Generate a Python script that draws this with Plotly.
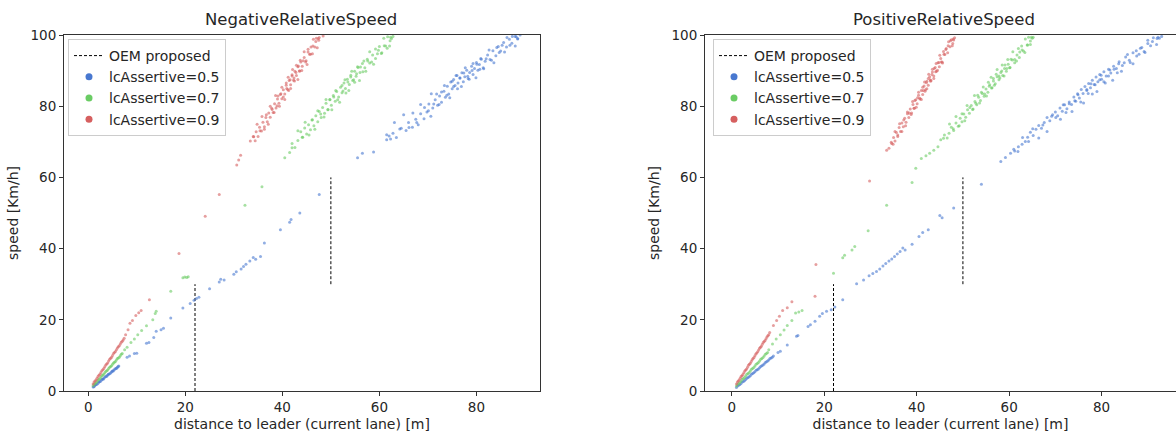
import plotly.graph_objects as go
from plotly.subplots import make_subplots

# ---- data (distance to leader [m], speed [Km/h]) ----
# NegativeRelativeSpeed
neg_05_x = [1, 1.3, 1.6, 2, 2.3, 2.7, 3, 3.3, 3.7, 4, 4.3, 4.7, 5, 5.3, 5.7, 6, 6.3,
            8, 8.5, 9.5, 10, 12, 12.5, 13.5, 14, 15, 15.5, 17, 19.5, 21, 21.8, 22.3, 22.8, 25, 27, 27.3, 28,
            30, 30.5, 31.5, 32, 32.5, 33.3, 34, 34.5, 35.5, 36.3, 39.6, 41.5, 41.8, 43.6, 47.6,
            55.5, 56.5, 58.8, 61.5, 62, 62.8, 63.5, 64.5, 65.5, 66, 66.8, 67.5, 68, 68.5, 69.2, 69.8, 70.2,
            70.6, 71, 71.5, 72, 72.4, 72.8, 73.3, 73.6, 74, 74.3, 74.7, 75, 75.3, 75.6, 76, 76.2, 76.6, 77,
            77.3, 77.6, 78, 78.3, 78.6, 79, 79.3, 79.6, 80, 80.3, 80.6, 81, 81.4, 81.8, 82.3, 82.8, 83.4,
            84, 84.5, 85, 85.6, 86.2, 86.8, 87.3, 88, 88.5, 89,
            61.5, 62.3, 63.1, 64.2, 65.0, 66.1, 66.9, 67.7, 68.5, 69.3, 70.1, 70.7, 71.2, 71.8, 72.3, 72.8,
            73.4, 73.9, 74.5, 75.0, 75.3, 75.8, 76.1, 76.6, 76.9, 77.4, 77.7, 78.2, 78.5, 79.1, 79.3, 79.9,
            80.1, 80.7, 80.9, 81.5, 82.0, 82.6, 83.1, 83.6, 84.2, 84.7, 85.3, 85.8, 86.3, 86.9, 87.4, 88.0,
            88.2, 88.5,
            1.15, 1.45, 1.8, 2.15, 2.5, 2.85, 3.15, 3.5, 3.85, 4.15, 4.5, 4.85, 5.15, 5.5, 5.85, 6.15]
neg_05_y = [1.1, 1.4, 1.8, 2.2, 2.6, 3, 3.4, 3.7, 4.1, 4.5, 4.8, 5.2, 5.6, 5.9, 6.3, 6.7, 7,
            9.5, 9.8, 10.5, 10.6, 13.4, 13.6, 15, 16.8, 17.2, 17.6, 20.5, 23.3, 24.6, 25.5, 26, 26.3, 28.7, 30.6, 31.4, 31.2,
            32.8, 33.5, 34.3, 35, 35.6, 36.5, 37.5, 37, 37.8, 41.6, 45.3, 47.4, 48.2, 50, 55.2,
            65.5, 66.8, 67.1, 70.6, 71.6, 72.4, 71.2, 73.8, 73.2, 75.4, 74.1, 76.3, 74.8, 77.9, 76.5, 78.4, 80.6,
            77.2, 79.5, 81.8, 80.3, 82.9, 81.1, 84.2, 82.5, 85.6, 83.4, 86.8, 84.9, 87.5, 85.8, 88.6, 86.5, 87.9, 89.4,
            86.9, 88.3, 90.1, 87.8, 89.5, 91.2, 88.9, 90.6, 92.3, 90.1, 91.7, 93.2, 90.8, 92.6, 94.4, 93.1, 95.6,
            94.2, 96.8, 95.5, 97.9, 96.6, 98.8, 97.7, 99.6, 98.9, 100,
            72.0, 70.8, 75.4, 73.6, 77.6, 74.0, 78.1, 75.4, 80.5, 79.6, 78.7, 83.5, 80.6, 83.4, 80.5, 84.0,
            85.8, 83.1, 82.4, 87.0, 85.5, 88.6, 84.9, 87.9, 85.5, 89.3, 90.8, 88.4, 87.6, 90.0, 92.0, 88.0,
            91.8, 90.4, 93.4, 90.5, 93.3, 95.8, 92.9, 92.2, 96.5, 95.1, 97.1, 95.2, 99.3, 97.1, 99.6, 96.9,
            99.5, 99.0,
            1.2, 1.7, 1.9, 2.5, 2.7, 3.3, 3.4, 4.0, 4.2, 4.7, 4.9, 5.5, 5.6, 6.2, 6.4, 6.9]

neg_07_x = [1, 1.4, 1.8, 2.2, 2.6, 3, 3.4, 3.8, 4.2, 4.6, 5, 5.4, 5.8, 6.2, 6.6, 7,
            7.5, 8, 8.8, 9.5, 10.2, 11, 12, 13.3, 13.8, 14, 17, 19.5, 19.9, 20.3, 20.6, 32.3, 35.8,
            40.5, 41.5, 42, 43.2, 43.8, 44.2, 44.6, 45, 45.4, 45.8, 46.2, 46.5, 46.9, 47.3, 47.6, 48, 48.3,
            48.7, 49, 49.4, 49.8, 50.1, 50.5, 50.9, 51.2, 51.6, 52, 52.3, 52.7, 53, 53.4, 53.8, 54.1, 54.5,
            54.9, 55.2, 55.6, 56, 56.5, 57, 57.5, 58, 58.6, 59.2, 59.8, 60.4, 61, 61.6, 62.2, 62.8,
            42.0, 42.6, 43.2, 44.1, 44.7, 45.5, 46.1, 46.7, 47.3, 47.9, 48.6, 49.0, 49.4, 49.8, 50.2, 50.6,
            51.0, 51.4, 51.8, 52.3, 52.5, 52.9, 53.1, 53.5, 53.7, 54.1, 54.3, 54.7, 54.9, 55.3, 55.5, 55.9,
            56.1, 56.6, 56.8, 57.2, 57.6, 58.0, 58.4, 58.8, 59.2, 59.6, 60.0, 60.5, 60.9, 61.3, 61.7, 62.1,
            62.3, 62.5,
            1.2, 1.6, 2.0, 2.4, 2.8, 3.2, 3.6, 4.0, 4.4, 4.8, 5.2, 5.6, 6.0, 6.4, 6.8]
neg_07_y = [1.5, 2.1, 2.7, 3.3, 3.9, 4.5, 5.1, 5.7, 6.3, 6.9, 7.5, 8.1, 8.7, 9.3, 9.9, 10.5,
            11.6, 12.3, 13.6, 14.6, 15.8, 17, 18.3, 20, 21.8, 22.4, 28, 31.8, 32, 31.9, 32.1, 52.2, 57.4,
            65.5, 67, 68.3, 70.4, 72.8, 71.3, 73.9, 72.2, 74.8, 73.4, 76.2, 74.5, 77.3, 75.6, 78.5, 76.8, 79.6,
            78, 80.8, 79.1, 81.9, 80.3, 83, 81.4, 84.1, 82.6, 85.3, 83.8, 86.5, 85, 87.6, 86.1, 88.7, 87.2,
            89.8, 88.4, 90.9, 89.5, 92, 90.8, 93.2, 92.1, 94.4, 93.4, 95.7, 94.8, 97, 96.3, 98.4, 99.6,
            69.5, 68.4, 73.1, 71.3, 75.5, 71.9, 76.1, 73.5, 78.7, 77.8, 77.0, 81.9, 79.0, 81.8, 79.0, 82.6,
            84.4, 81.8, 81.1, 85.8, 84.3, 87.4, 83.7, 86.8, 84.4, 88.2, 89.8, 87.4, 86.7, 89.1, 91.1, 87.2,
            91.0, 89.7, 92.7, 89.8, 92.7, 95.3, 92.4, 91.8, 96.1, 94.7, 96.8, 95.0, 99.1, 96.9, 99.5, 96.9,
            99.4, 99.0,
            1.9, 2.3, 3.1, 3.5, 4.3, 4.7, 5.5, 5.9, 6.7, 7.1, 7.9, 8.3, 9.1, 9.5, 10.3]

neg_09_x = [1, 1.4, 1.8, 2.2, 2.6, 3, 3.4, 3.8, 4.2, 4.6, 5, 5.4, 5.8, 6.2, 6.6, 7, 7.4, 7.7,
            8.2, 8.6, 9.1, 9.8, 10.4, 10.9, 12.6, 18.7, 24.1, 27,
            30.6, 31, 31.4, 33.4, 34.1, 34.6, 35, 35.3, 35.7, 36, 36.3, 36.6, 36.9, 37.2, 37.5, 37.8, 38.1,
            38.4, 38.7, 39, 39.3, 39.6, 39.9, 40.2, 40.5, 40.8, 41.1, 41.4, 41.7, 42, 42.3, 42.6, 42.9,
            43.2, 43.5, 43.8, 44.1, 44.5, 44.9, 45.3, 45.8, 46.3, 46.9, 47.6, 48.4,
            34.0, 34.4, 34.8, 35.4, 35.8, 36.3, 36.7, 37.1, 37.5, 37.9, 38.3, 38.6, 38.9, 39.1, 39.4, 39.7,
            39.9, 40.2, 40.5, 40.8, 40.9, 41.2, 41.3, 41.6, 41.7, 42.0, 42.1, 42.4, 42.5, 42.8, 42.9, 43.2,
            43.3, 43.6, 43.7, 44.0, 44.3, 44.5, 44.8, 45.1, 45.3, 45.6, 45.9, 46.2, 46.4, 46.7, 47.0, 47.2,
            47.4, 47.5,
            1.2, 1.6, 2.0, 2.4, 2.8, 3.2, 3.6, 4.0, 4.4, 4.8, 5.2, 5.6, 6.0, 6.4, 6.8, 7.2]
neg_09_y = [2, 2.8, 3.6, 4.4, 5.2, 6, 6.8, 7.6, 8.4, 9.2, 10, 10.8, 11.6, 12.4, 13.2, 14, 14.8, 15.8,
            17.2, 19, 19.8, 21.2, 22, 22.6, 25.6, 38.6, 49.1, 55.2,
            63.5, 64.9, 66.2, 70.2, 71.4, 72.8, 71.5, 74.1, 73, 75.5, 74.2, 76.8, 75.6, 78.1, 76.9, 79.4, 78.2,
            80.7, 79.5, 82, 80.8, 83.3, 82.1, 84.6, 83.4, 85.9, 84.7, 87.2, 86, 88.5, 87.3, 89.8, 88.6,
            91.1, 89.9, 92.4, 91.2, 93.7, 92.8, 95.2, 94.6, 96.9, 98.2, 99.3, 99.7,
            71.5, 70.3, 74.9, 73.1, 77.1, 73.5, 77.6, 74.9, 80.0, 79.1, 78.2, 83.0, 80.1, 82.9, 80.0, 83.5,
            85.3, 82.6, 81.9, 86.5, 85.0, 88.1, 84.4, 87.4, 85.0, 88.8, 90.3, 87.9, 87.1, 89.5, 91.5, 87.5,
            91.3, 89.9, 92.9, 90.0, 92.8, 95.3, 92.4, 91.7, 96.0, 94.6, 96.6, 94.7, 98.8, 96.6, 99.1, 96.4,
            99.0, 98.5,
            2.5, 3.1, 4.1, 4.7, 5.7, 6.3, 7.3, 7.9, 8.9, 9.5, 10.5, 11.1, 12.1, 12.7, 13.7, 14.3]

# PositiveRelativeSpeed
pos_05_x = [1, 1.5, 2, 2.5, 3, 3.5, 4, 4.5, 5, 5.5, 6, 6.5, 7, 7.5, 8, 8.5, 9,
            10, 10.5, 12, 14, 14.3, 16.5, 17, 18, 19, 19.6, 20.5, 21.5, 22.3, 24, 27, 28.5, 29.7, 30.5,
            31.3, 32, 32.7, 33.3, 34, 34.6, 35.2, 35.8, 36.4, 37, 37.5, 39, 40.5, 41.3, 42.5, 45, 45.5, 48, 54,
            58.2, 59.2, 60.3, 61.2, 62, 62.8, 63.5, 64, 64.6, 65.2, 65.8, 66.4, 67, 67.6, 68.2, 68.8, 69.4,
            70, 70.5, 71, 71.5, 72, 72.5, 73, 73.5, 74, 74.4, 74.8, 75.2, 75.6, 76, 76.4, 76.8, 77.2, 77.6,
            78, 78.4, 78.8, 79.2, 79.6, 80, 80.5, 81, 81.5, 82, 82.6, 83.2, 83.8, 84.5, 85.2, 86, 86.8,
            87.6, 88.4, 89.2, 90, 91, 92, 93,
            61.0, 61.9, 62.9, 64.2, 65.1, 66.4, 67.3, 68.2, 69.2, 70.1, 71.1, 71.7, 72.3, 73.0, 73.6, 74.2,
            74.9, 75.5, 76.1, 76.8, 77.1, 77.7, 78.0, 78.6, 79.0, 79.6, 79.9, 80.5, 80.8, 81.5, 81.8, 82.4,
            82.7, 83.4, 83.7, 84.3, 84.9, 85.6, 86.2, 86.8, 87.5, 88.1, 88.7, 89.4, 90.0, 90.6, 91.2, 91.9,
            92.2, 92.5,
            1.25, 1.75, 2.25, 2.75, 3.25, 3.75, 4.25, 4.75, 5.25, 5.75, 6.25, 6.75, 7.25, 7.75, 8.25, 8.75]
pos_05_y = [1, 1.6, 2.1, 2.7, 3.2, 3.8, 4.3, 4.9, 5.4, 6, 6.5, 7.1, 7.6, 8.2, 8.7, 9.3, 9.8,
            10.8, 11.2, 12.9, 15.4, 15.6, 18.1, 18.6, 19.6, 21, 21.8, 22.4, 22.8, 23.6, 25.6, 30.1, 31.2, 32.4, 33,
            33.6, 34.3, 35.1, 35.8, 36.5, 37.1, 37.8, 38.5, 39.2, 40.2, 39.6, 41.2, 43.4, 44.5, 45.3, 49.3, 48.7, 51.4, 58.1,
            64.5, 65.6, 66.8, 67.4, 68.6, 69.3, 70.1, 71.3, 72.7, 71.8, 73.5, 74.6, 73.8, 75.4, 76.8, 75.9, 77.6,
            78.4, 77.3, 79.5, 78.6, 80.4, 79.3, 81.2, 80.5, 82.6, 81.4, 83.5, 82.3, 84.7, 83.6, 85.5, 84.4, 86.4, 85.2,
            87.3, 86.1, 88.2, 86.9, 88.9, 87.6, 89.7, 88.5, 90.4, 89.3, 91.2, 90.6, 92.5, 91.4, 93.8, 92.9, 95,
            94.1, 96.3, 95.4, 97.6, 98.2, 99, 99.6,
            67.9, 67.3, 71.2, 70.1, 73.7, 71.1, 74.7, 72.9, 77.2, 76.8, 76.3, 80.4, 78.2, 80.7, 78.5, 81.5,
            83.2, 81.2, 80.9, 84.7, 83.6, 86.3, 83.4, 86.0, 84.1, 87.4, 88.7, 86.9, 86.5, 88.5, 90.2, 87.3,
            90.4, 89.4, 91.9, 89.8, 92.2, 94.5, 92.3, 91.9, 95.6, 94.6, 96.5, 95.1, 98.5, 97.0, 99.2, 97.3,
            99.4, 99.1,
            1.4, 1.8, 2.5, 2.9, 3.6, 4.0, 4.7, 5.1, 5.8, 6.2, 6.9, 7.3, 8.0, 8.4, 9.1, 9.5]

pos_07_x = [1, 1.5, 2, 2.5, 3, 3.5, 4, 4.5, 5, 5.5, 6, 6.5, 7, 7.5, 8,
            8.8, 9.6, 10.5, 11.3, 12, 13, 13.8, 14.5, 15.2, 22, 24, 24.4, 26, 26.6, 29.5, 33.5, 39,
            39.8, 41, 42, 42.8, 43.7, 44.6, 45.2, 45.8,
            47, 47.5, 48, 48.5, 49, 49.4, 49.8, 50.2, 50.6, 51, 51.4, 51.8, 52.2, 52.6, 53, 53.4, 53.8,
            54.2, 54.6, 55, 55.4, 55.8, 56.2, 56.6, 57, 57.4, 57.8, 58.2, 58.6, 59, 59.4, 59.8, 60.2,
            60.7, 61.2, 61.7, 62.2, 62.8, 63.4, 64, 64.6, 65.2,
            46.0, 46.6, 47.1, 47.9, 48.5, 49.2, 49.8, 50.4, 50.9, 51.5, 52.1, 52.5, 52.8, 53.2, 53.6, 54.0,
            54.4, 54.7, 55.1, 55.5, 55.7, 56.1, 56.3, 56.6, 56.8, 57.2, 57.4, 57.8, 58.0, 58.4, 58.5, 58.9,
            59.1, 59.5, 59.7, 60.1, 60.4, 60.8, 61.2, 61.6, 62.0, 62.3, 62.7, 63.1, 63.5, 63.9, 64.2, 64.6,
            64.8, 65.0,
            1.25, 1.75, 2.25, 2.75, 3.25, 3.75, 4.25, 4.75, 5.25, 5.75, 6.25, 6.75, 7.25, 7.75]
pos_07_y = [1.4, 2.1, 2.8, 3.5, 4.2, 4.9, 5.6, 6.3, 7, 7.7, 8.4, 9.1, 9.8, 10.5, 11.6,
            13.2, 14.6, 15.8, 17.1, 18.4, 19.8, 21.9, 22.2, 22.6, 33.1, 37.4, 38.1, 39.6, 40.6, 45, 52.2, 58.6,
            62.6, 65.3, 66.1, 66.8, 67.6, 68.6, 70.6, 71,
            72.4, 74.1, 73.2, 75.3, 74.4, 76.6, 75.6, 77.8, 76.9, 79, 78, 80.2, 79.2, 81.3, 80.4, 82.5, 81.6,
            83.6, 82.8, 84.8, 83.9, 86, 85.1, 87.1, 86.3, 88.3, 87.4, 89.5, 88.6, 90.6, 89.8, 91.8, 90.9,
            93, 92.2, 94.4, 93.7, 95.8, 95.1, 97.2, 98.3, 99.4,
            71.9, 71.1, 75.0, 73.7, 77.1, 74.5, 77.9, 75.9, 80.2, 79.6, 79.1, 83.0, 80.8, 83.1, 80.9, 83.9,
            85.4, 83.4, 82.9, 86.7, 85.6, 88.1, 85.2, 87.8, 85.9, 89.0, 90.3, 88.5, 87.9, 89.9, 91.6, 88.5,
            91.6, 90.6, 93.1, 90.8, 93.2, 95.3, 93.1, 92.7, 96.2, 95.2, 96.9, 95.5, 98.9, 97.2, 99.4, 97.3,
            99.4, 99.1,
            1.9, 2.4, 3.3, 3.8, 4.7, 5.2, 6.1, 6.6, 7.5, 8.0, 8.9, 9.4, 10.3, 10.8]

pos_09_x = [1, 1.4, 1.8, 2.2, 2.6, 3, 3.4, 3.8, 4.2, 4.6, 5, 5.4, 5.8, 6.2, 6.6, 7, 7.4, 7.8, 8.2,
            9, 9.7, 10.3, 11, 12, 13, 18, 18.2, 29.8, 33.5, 34,
            34.6, 35, 35.3, 35.6, 35.9, 36.2, 36.5, 36.8, 37.1, 37.4, 37.7, 38, 38.3, 38.6, 38.9, 39.2,
            39.5, 39.8, 40.1, 40.4, 40.7, 41, 41.3, 41.6, 41.9, 42.2, 42.5, 42.8, 43.1, 43.4, 43.7, 44,
            44.3, 44.6, 44.9, 45.2, 45.5, 45.9, 46.3, 46.8, 47.3, 47.8, 48.2,
            34.5, 34.9, 35.3, 35.9, 36.3, 36.8, 37.2, 37.6, 38.0, 38.4, 38.8, 39.1, 39.4, 39.6, 39.9, 40.2,
            40.4, 40.7, 41.0, 41.3, 41.4, 41.7, 41.8, 42.1, 42.2, 42.5, 42.6, 42.9, 43.0, 43.3, 43.4, 43.7,
            43.8, 44.1, 44.2, 44.5, 44.8, 45.0, 45.3, 45.6, 45.8, 46.1, 46.4, 46.7, 46.9, 47.2, 47.5, 47.7,
            47.9, 48.0,
            1.2, 1.6, 2.0, 2.4, 2.8, 3.2, 3.6, 4.0, 4.4, 4.8, 5.2, 5.6, 6.0, 6.4, 6.8, 7.2, 7.6, 8.0]
pos_09_y = [2, 2.8, 3.6, 4.3, 5.1, 5.9, 6.7, 7.5, 8.3, 9.1, 9.9, 10.7, 11.5, 12.3, 13.1, 13.9, 14.7, 15.5, 16.4,
            18.4, 19.8, 21, 22.6, 23.4, 25.1, 26.6, 35.5, 59, 67.6, 68.2,
            69.5, 71.2, 70.2, 72.6, 71.5, 74, 72.9, 75.3, 74.2, 76.6, 75.5, 77.9, 76.8, 79.2, 78.1, 80.5,
            79.4, 81.8, 80.7, 83.1, 82, 84.4, 83.3, 85.7, 84.6, 87, 85.9, 88.3, 87.2, 89.6, 88.5, 90.9,
            89.8, 92.2, 91.1, 93.4, 92.4, 94.6, 95.9, 97, 98.4, 97.6, 99.2,
            69.9, 69.3, 72.9, 71.9, 75.1, 72.9, 76.1, 74.5, 78.4, 78.1, 77.7, 81.3, 79.4, 81.6, 79.7, 82.4,
            83.9, 82.2, 81.9, 85.3, 84.4, 86.8, 84.2, 86.6, 84.9, 87.8, 89.0, 87.4, 87.0, 88.9, 90.4, 87.8,
            90.6, 89.7, 92.0, 90.1, 92.3, 94.3, 92.4, 92.1, 95.4, 94.5, 96.2, 95.0, 98.1, 96.7, 98.7, 97.0,
            98.9, 98.6,
            2.5, 3.1, 4.1, 4.6, 5.6, 6.2, 7.2, 7.8, 8.8, 9.4, 10.4, 11.0, 12.0, 12.6, 13.6, 14.2, 15.2, 15.8]

# OEM proposed thresholds (two vertical segments)
oem_x = [22, 22, None, 50, 50]
oem_y = [0, 30, None, 30, 60]

labels = ["lcAssertive=0.5", "lcAssertive=0.7", "lcAssertive=0.9"]
colors = ["#4878d0", "#6acc64", "#d65f5f"]
panels = ["NegativeRelativeSpeed", "PositiveRelativeSpeed"]

series = [
    [(neg_05_x, neg_05_y), (neg_07_x, neg_07_y), (neg_09_x, neg_09_y)],
    [(pos_05_x, pos_05_y), (pos_07_x, pos_07_y), (pos_09_x, pos_09_y)],
]

FONT = "DejaVu Sans"
TXT = "#262626"
W, H = 1176, 432   # body margin is zeroed in post_script so the figure fills the window

fig = make_subplots(rows=1, cols=2)

for p in range(2):
    leg = "legend" if p == 0 else "legend2"
    fig.add_trace(go.Scatter(x=oem_x, y=oem_y, mode="lines", name="OEM proposed",
                             line=dict(color="black", width=1, dash="3px,2px"),
                             legend=leg), row=1, col=p + 1)
    for (xs, ys), lab, col in zip(series[p], labels, colors):
        fig.add_trace(go.Scatter(x=xs, y=ys, mode="markers", name=lab, showlegend=False,
                                 marker=dict(color=col, size=3, opacity=0.6, line_width=0)),
                      row=1, col=p + 1)
        # legend-only entry with a bigger dot
        fig.add_trace(go.Scatter(x=[None], y=[None], mode="markers", name=lab,
                                 marker=dict(color=col, size=7), legend=leg),
                      row=1, col=p + 1)

axis_style = dict(showline=True, linecolor="#333333", linewidth=1, ticks="outside",
                  ticklen=4, tickcolor="#333333", showgrid=False, zeroline=False,
                  automargin=False,
                  tickfont=dict(family=FONT, size=13.5, color=TXT),
                  title_font=dict(family=FONT, size=14, color=TXT))
fig.update_xaxes(axis_style)
fig.update_yaxes(axis_style)

ydom = [41 / H, 397 / H]
xlabel = "distance to leader (current lane) [m]"
ylabel = "speed [Km/h]"

fig.update_layout(
    xaxis=dict(domain=[64 / W, 540 / W], range=[-5, 93.1], mirror=True,
               tickvals=[0, 20, 40, 60, 80], title=dict(text=xlabel, standoff=17)),
    yaxis=dict(domain=ydom, range=[0, 100], mirror=True,
               tickvals=[0, 20, 40, 60, 80, 100], title=dict(text=ylabel, standoff=8)),
    xaxis2=dict(domain=[705 / W, 1], range=[-5.8, 96.1], mirror=True,
                tickvals=[0, 20, 40, 60, 80], title=dict(text=xlabel, standoff=17)),
    yaxis2=dict(domain=ydom, range=[0, 100], mirror=False,
                tickvals=[0, 20, 40, 60, 80, 100], title=dict(text=ylabel, standoff=8)),
)

legend_style = dict(xanchor="left", yanchor="top", bgcolor="rgba(255,255,255,0.8)",
                    bordercolor="#cccccc", borderwidth=1, itemsizing="trace",
                    font=dict(family=FONT, size=14, color=TXT))

fig.update_layout(
    width=W, height=H,
    margin=dict(l=0, r=0, t=0, b=0),
    plot_bgcolor="white", paper_bgcolor="white",
    font=dict(family=FONT, color=TXT),
    legend=dict(x=68 / W, y=1 - 39 / H, **legend_style),
    legend2=dict(x=713 / W, y=1 - 39 / H, **legend_style),
    annotations=[
        dict(text=panels[0], x=301 / W, y=1 - 20 / H, xref="paper", yref="paper",
             xanchor="center", yanchor="middle", showarrow=False,
             font=dict(family=FONT, size=16.5, color=TXT)),
        dict(text=panels[1], x=944 / W, y=1 - 20 / H, xref="paper", yref="paper",
             xanchor="center", yanchor="middle", showarrow=False,
             font=dict(family=FONT, size=16.5, color=TXT)),
    ],
)

fig.write_html("out.html", config={"displayModeBar": False},
               post_script="document.body.style.margin='0';document.body.style.overflow='hidden';")
